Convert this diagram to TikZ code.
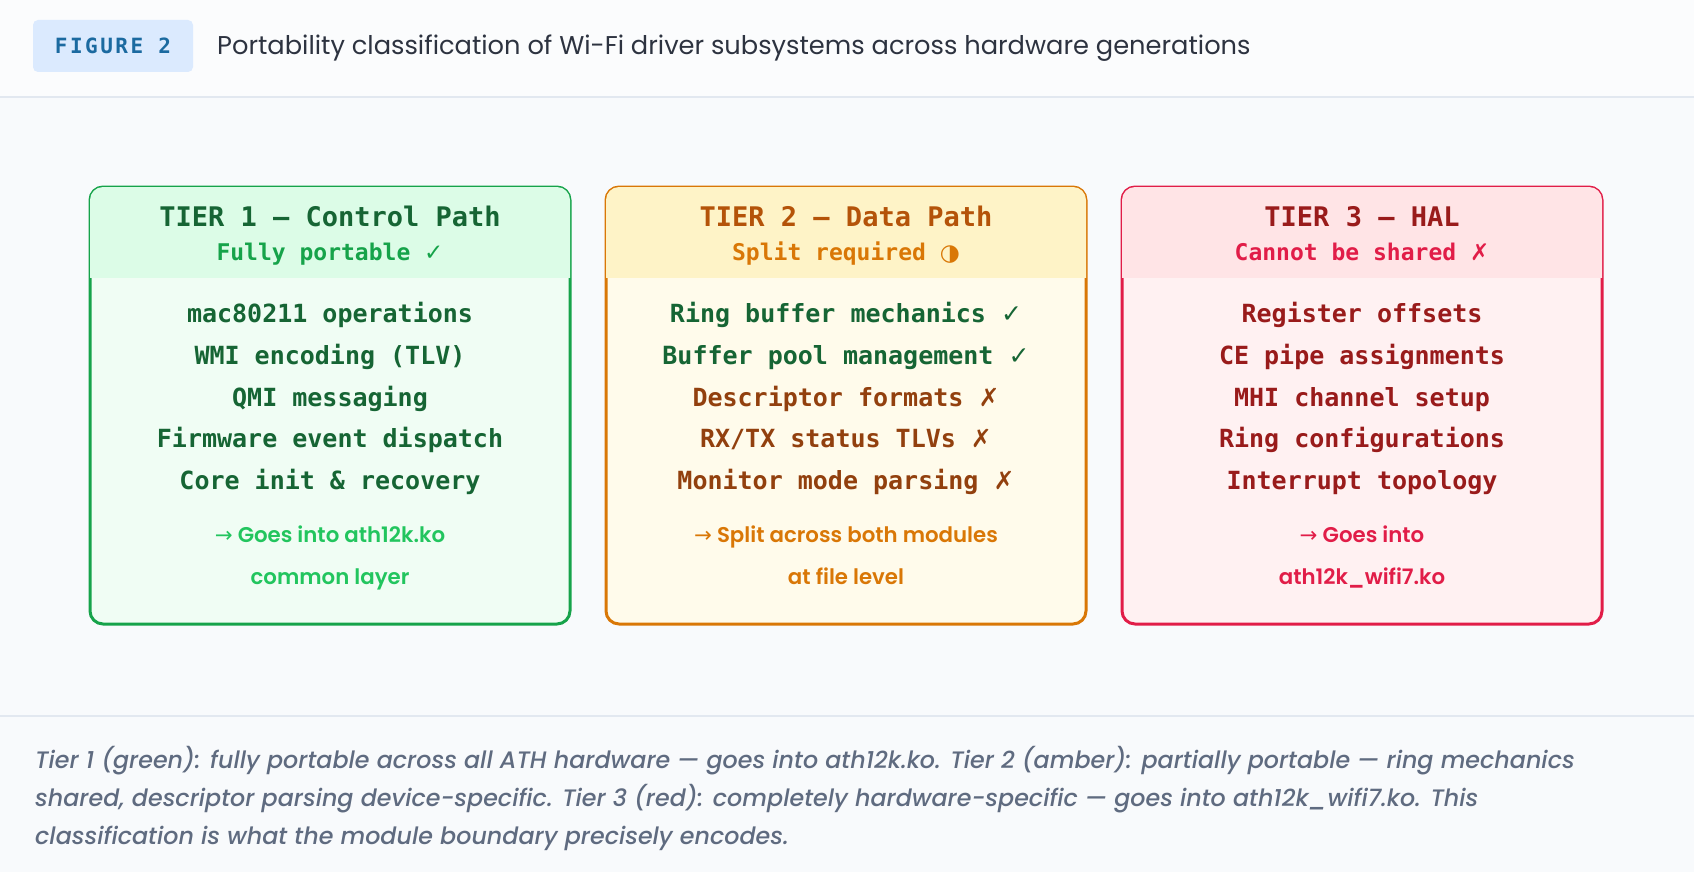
\documentclass[tikz,border=0pt]{standalone}
\usepackage{fontspec}
\setmainfont{Poppins}
\newfontfamily\popsemi{Poppins SemiBold}
\newfontfamily\popmedit{Poppins Medium Italic}
\newfontfamily\monof{DejaVu Sans Mono}
\newfontfamily\badgef[LetterSpace=12]{DejaVu Sans Mono}
\newfontfamily\symf{DejaVu Sans}
\definecolor{bghead}{HTML}{FBFCFD}
\definecolor{bgbody}{HTML}{F8FAFC}
\definecolor{sepc}{HTML}{E2E8F0}
\definecolor{badgefill}{HTML}{DBEAFE}
\definecolor{badgetext}{HTML}{1B6AA0}
\definecolor{titletext}{HTML}{2D3340}
\definecolor{captext}{HTML}{5F6B80}
% tier 1
\definecolor{gborder}{HTML}{16A34A}
\definecolor{ghead}{HTML}{DCFCE7}
\definecolor{gbody}{HTML}{F0FDF4}
\definecolor{gdark}{HTML}{166534}
\definecolor{gsub}{HTML}{16A34A}
\definecolor{gfoot}{HTML}{22C55E}
% tier 2
\definecolor{aborder}{HTML}{D97706}
\definecolor{ahead}{HTML}{FEF3C7}
\definecolor{abody}{HTML}{FFFBEB}
\definecolor{adark}{HTML}{92400E}
\definecolor{atitle}{HTML}{B45309}
\definecolor{asub}{HTML}{D97706}
% tier 3
\definecolor{rborder}{HTML}{E11D48}
\definecolor{rhead}{HTML}{FFE4E6}
\definecolor{rbody}{HTML}{FFF1F2}
\definecolor{rdark}{HTML}{991B1B}
\definecolor{rsub}{HTML}{E11D48}
\tikzset{
  tiertitle/.style={anchor=base,inner sep=0pt,font=\monof\bfseries\fontsize{27}{32}\selectfont},
  tiersub/.style={anchor=base,inner sep=0pt,font=\monof\bfseries\fontsize{23}{28}\selectfont},
  tieritem/.style={anchor=base,inner sep=0pt,font=\monof\bfseries\fontsize{25}{30}\selectfont},
  tierfoot/.style={anchor=base,inner sep=0pt,font=\popsemi\fontsize{21.3}{26}\selectfont},
  capline/.style={anchor=base west,inner sep=0pt,text=captext,font=\popmedit\fontsize{23.8}{28}\selectfont},
}
\newcommand{\tierbox}[5]{%
  \fill[#5,draw=#3,line width=3pt,rounded corners=13pt] (#1,187) rectangle (#2,624);
  \begin{scope}
    \clip (#1-5,180) rectangle (#2+5,277);
    \fill[#4,rounded corners=13pt] (#1,187) rectangle (#2,320);
  \end{scope}
}
\begin{document}
\begin{tikzpicture}[x=1pt,y=-1pt]
\useasboundingbox (0,0) rectangle (1694,872);
\fill[bgbody] (0,0) rectangle (1694,872);
\fill[bghead] (0,0) rectangle (1694,97);
\fill[sepc] (0,96) rectangle (1694,98.5);
\fill[sepc] (0,714.5) rectangle (1694,717);

% header
\fill[badgefill,rounded corners=5pt] (33,20) rectangle (193,72);
\node[anchor=base,inner sep=0pt,text=badgetext,font=\badgef\bfseries\fontsize{21}{24}\selectfont] (badge) at (113,54) {FIGURE 2};
\node[anchor=base west,inner sep=0pt,text=titletext,font=\fontsize{25.7}{30}\selectfont] (title) at (217,55) {Portability classification of Wi-Fi driver subsystems across hardware generations};

% boxes
\tierbox{90}{570}{gborder}{ghead}{gbody}
\tierbox{606}{1086}{aborder}{ahead}{abody}
\tierbox{1122}{1602}{rborder}{rhead}{rbody}

% tier 1
\node[tiertitle,text=gdark] (t1title) at (330,226) {TIER 1 — Control Path};
\node[tiersub,text=gsub] (t1sub) at (330,260) {Fully portable {\symf\mdseries ✓}};
\node[tieritem,text=gdark] (t1a) at (330,322.7) {mac80211 operations};
\node[tieritem,text=gdark] (t1b) at (330,364.3) {WMI encoding (TLV)};
\node[tieritem,text=gdark] (t1c) at (330,406) {QMI messaging};
\node[tieritem,text=gdark] (t1d) at (330,447.7) {Firmware event dispatch};
\node[tieritem,text=gdark] (t1e) at (330,489.3) {Core init \& recovery};
\node[tierfoot,text=gfoot] (t1f) at (330,542.7) {{\symf →} Goes into ath12k.ko};
\node[tierfoot,text=gfoot] (t1g) at (330,584) {common layer};

% tier 2
\node[tiertitle,text=atitle] (t2title) at (846,226) {TIER 2 — Data Path};
\node[tiersub,text=asub] (t2sub) at (846,260) {Split required {\symf ◑}};
\node[tieritem,text=gdark] (t2a) at (846,322.7) {Ring buffer mechanics {\symf\mdseries ✓}};
\node[tieritem,text=gdark] (t2b) at (846,364.3) {Buffer pool management {\symf\mdseries ✓}};
\node[tieritem,text=adark] (t2c) at (846,406) {Descriptor formats {\symf\mdseries ✗}};
\node[tieritem,text=adark] (t2d) at (846,447.7) {RX/TX status TLVs {\symf\mdseries ✗}};
\node[tieritem,text=adark] (t2e) at (846,489.3) {Monitor mode parsing {\symf\mdseries ✗}};
\node[tierfoot,text=asub] (t2f) at (846,542.7) {{\symf →} Split across both modules};
\node[tierfoot,text=asub] (t2g) at (846,584) {at file level};

% tier 3
\node[tiertitle,text=rdark] (t3title) at (1362,226) {TIER 3 — HAL};
\node[tiersub,text=rsub] (t3sub) at (1362,260) {Cannot be shared {\symf\mdseries ✗}};
\node[tieritem,text=rdark] (t3a) at (1362,322.7) {Register offsets};
\node[tieritem,text=rdark] (t3b) at (1362,364.3) {CE pipe assignments};
\node[tieritem,text=rdark] (t3c) at (1362,406) {MHI channel setup};
\node[tieritem,text=rdark] (t3d) at (1362,447.7) {Ring configurations};
\node[tieritem,text=rdark] (t3e) at (1362,489.3) {Interrupt topology};
\node[tierfoot,text=rsub] (t3f) at (1362,542.7) {{\symf →} Goes into};
\node[tierfoot,text=rsub] (t3g) at (1362,584) {ath12k\_wifi7.ko};

% caption
\node[capline] (cap1) at (35,768) {Tier 1 (green): fully portable across all ATH hardware — goes into ath12k.ko. Tier 2 (amber): partially portable — ring mechanics};
\node[capline] (cap2) at (35,806) {shared, descriptor parsing device-specific. Tier 3 (red): completely hardware-specific — goes into ath12k\_wifi7.ko. This};
\node[capline] (cap3) at (35,844) {classification is what the module boundary precisely encodes.};
\end{tikzpicture}
\end{document}
